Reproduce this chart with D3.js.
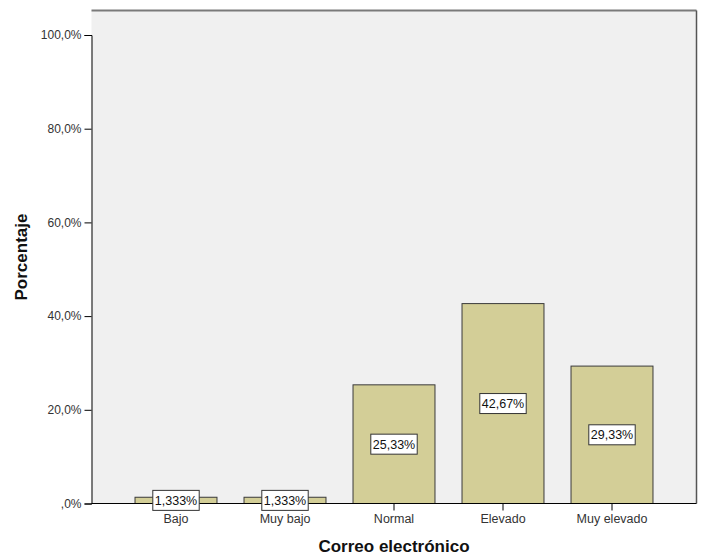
<!DOCTYPE html>
<html><head><meta charset="utf-8">
<script src="https://cdn.jsdelivr.net/npm/d3@7"></script>
<style>body{margin:0;background:#fff;} text{font-family:"Liberation Sans",Arial,sans-serif;}</style>
</head><body>
<svg id="c" width="703" height="556"></svg>
<script>
const categories = ["Bajo","Muy bajo","Normal","Elevado","Muy elevado"];
const values = [1.333,1.333,25.33,42.67,29.33];
const valueLabels = ["1,333%","1,333%","25,33%","42,67%","29,33%"];
const yTicks = [0,20,40,60,80,100];
const yTickLabels = [",0%","20,0%","40,0%","60,0%","80,0%","100,0%"];

const svg = d3.select("#c");
const L = 91.5, R = 696.5, T = 10.5, B = 503.5;
const y = d3.scaleLinear().domain([0,100]).range([B, 35]);
const x = d3.scaleBand().domain(categories).range([121.5, 666.5]).paddingInner(0.248).paddingOuter(0.124);

svg.append("rect").attr("x",L).attr("y",T).attr("width",R-L).attr("height",B-T).attr("fill","#f0f0f0");
svg.append("line").attr("x1",L).attr("x2",R).attr("y1",T).attr("y2",T).attr("stroke","#7a7a7a").attr("stroke-width",2);
svg.append("line").attr("x1",R).attr("x2",R).attr("y1",T).attr("y2",B).attr("stroke","#555").attr("stroke-width",1.5);

svg.selectAll(".bar").data(values).enter().append("rect")
  .attr("x",(d,i)=>x(categories[i])).attr("width",x.bandwidth())
  .attr("y",d=>y(d)).attr("height",d=>B-y(d))
  .attr("fill","#d3ce97").attr("stroke","#3a3a3a").attr("stroke-width",1);

const yAxis = d3.axisLeft(y).tickValues(yTicks).tickFormat((d,i)=>yTickLabels[i]).tickSize(7).tickPadding(3);
const ga = svg.append("g").attr("transform",`translate(${L},0)`).call(yAxis);
ga.select(".domain").attr("stroke","#000");
ga.selectAll("line").attr("stroke","#000");
ga.selectAll("text").attr("font-size",12).attr("fill","#333").attr("font-family","Liberation Sans, Arial, sans-serif");

const xAxis = d3.axisBottom(x).tickSize(7).tickPadding(4).tickSizeOuter(0);
const gx = svg.append("g").attr("transform",`translate(0,${B})`).call(xAxis);
gx.select(".domain").attr("d",`M${L},0H${R}`).attr("stroke","#000");
gx.selectAll("line").attr("stroke","#000");
gx.selectAll("text").attr("font-size",12.5).attr("fill","#333").attr("font-family","Liberation Sans, Arial, sans-serif");

const lab = svg.selectAll(".lab").data(values).enter().append("g")
  .attr("transform",(d,i)=>`translate(${x(categories[i])+x.bandwidth()/2},${(y(d)+B)/2})`);
lab.append("text").attr("text-anchor","middle").attr("dy","0.35em").attr("font-size",12.5).attr("fill","#111")
  .text((d,i)=>valueLabels[i]);
lab.each(function(){
  const g=d3.select(this); const bb=g.select("text").node().getBBox();
  g.insert("rect","text").attr("x",bb.x-2).attr("y",-10).attr("width",bb.width+4).attr("height",20)
   .attr("fill","#fff").attr("stroke","#333").attr("stroke-width",1);
});

svg.append("text").attr("x",(L+R)/2).attr("y",552).attr("text-anchor","middle").attr("font-size",17).attr("font-weight","bold").attr("fill","#111").text("Correo electrónico");
svg.append("text").attr("transform",`translate(27,${(T+B)/2}) rotate(-90)`).attr("text-anchor","middle").attr("font-size",17).attr("font-weight","bold").attr("fill","#111").text("Porcentaje");
</script>
</body></html>
